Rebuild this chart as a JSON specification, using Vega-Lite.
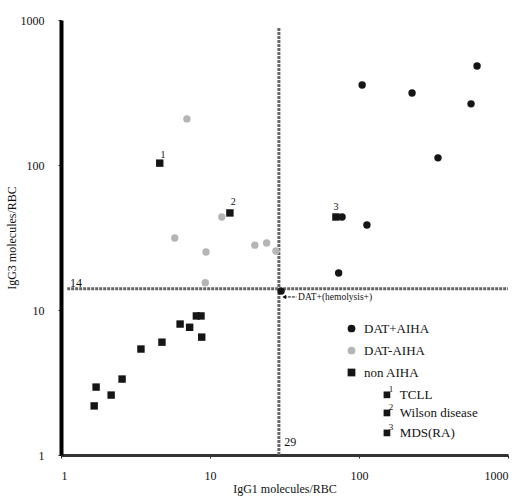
{
  "$schema": "https://vega.github.io/schema/vega-lite/v6.json",
  "width": 447,
  "height": 435,
  "autosize": "none",
  "padding": {"left": 61, "top": 20, "right": 21, "bottom": 41},
  "background": "white",
  "config": {
    "view": {"stroke": null},
    "font": "Liberation Serif",
    "axis": {"labelFont": "Liberation Serif", "titleFont": "Liberation Serif", "grid": false}
  },
  "datasets": {
    "pts": [
      {"igg1": 105, "igg3": 356, "group": "DAT+AIHA"},
      {"igg1": 227, "igg3": 314, "group": "DAT+AIHA"},
      {"igg1": 620, "igg3": 482, "group": "DAT+AIHA"},
      {"igg1": 565, "igg3": 264, "group": "DAT+AIHA"},
      {"igg1": 339, "igg3": 112, "group": "DAT+AIHA"},
      {"igg1": 77, "igg3": 43.8, "group": "DAT+AIHA"},
      {"igg1": 113, "igg3": 38.6, "group": "DAT+AIHA"},
      {"igg1": 73, "igg3": 18, "group": "DAT+AIHA"},
      {"igg1": 30, "igg3": 13.5, "group": "DAT+AIHA"},
      {"igg1": 7.0, "igg3": 208, "group": "DAT-AIHA"},
      {"igg1": 12.0, "igg3": 43.8, "group": "DAT-AIHA"},
      {"igg1": 5.8, "igg3": 31.4, "group": "DAT-AIHA"},
      {"igg1": 9.4, "igg3": 25.1, "group": "DAT-AIHA"},
      {"igg1": 20, "igg3": 28, "group": "DAT-AIHA"},
      {"igg1": 24, "igg3": 29, "group": "DAT-AIHA"},
      {"igg1": 27.7, "igg3": 25.5, "group": "DAT-AIHA"},
      {"igg1": 9.3, "igg3": 15.4, "group": "DAT-AIHA"},
      {"igg1": 4.6, "igg3": 103, "group": "non AIHA"},
      {"igg1": 13.6, "igg3": 46.7, "group": "non AIHA"},
      {"igg1": 70, "igg3": 43.8, "group": "non AIHA"},
      {"igg1": 1.72, "igg3": 2.94, "group": "non AIHA"},
      {"igg1": 1.67, "igg3": 2.18, "group": "non AIHA"},
      {"igg1": 2.17, "igg3": 2.59, "group": "non AIHA"},
      {"igg1": 2.57, "igg3": 3.34, "group": "non AIHA"},
      {"igg1": 3.44, "igg3": 5.38, "group": "non AIHA"},
      {"igg1": 4.76, "igg3": 6.0, "group": "non AIHA"},
      {"igg1": 6.3, "igg3": 8.0, "group": "non AIHA"},
      {"igg1": 7.3, "igg3": 7.6, "group": "non AIHA"},
      {"igg1": 8.1, "igg3": 9.1, "group": "non AIHA"},
      {"igg1": 8.7, "igg3": 9.1, "group": "non AIHA"},
      {"igg1": 8.8, "igg3": 6.5, "group": "non AIHA"}
    ]
  },
  "layer": [
    {
      "data": {"values": [{"y": 14, "x1": 1.1, "x2": 1000}]},
      "mark": {"type": "rule", "color": "#666", "strokeWidth": 3, "strokeDash": [3, 1]},
      "encoding": {
        "y": {"field": "y", "type": "quantitative", "scale": {"type": "log", "domain": [1, 1000], "nice": false}},
        "x": {"field": "x1", "type": "quantitative", "scale": {"type": "log", "domain": [1, 1000], "nice": false}},
        "x2": {"field": "x2"}
      }
    },
    {
      "data": {"values": [{"x": 29, "y1": 1, "y2": 880}]},
      "mark": {"type": "rule", "color": "#666", "strokeWidth": 3, "strokeDash": [3, 1]},
      "encoding": {
        "x": {"field": "x", "type": "quantitative"},
        "y": {"field": "y1", "type": "quantitative"},
        "y2": {"field": "y2"}
      }
    },
    {
      "data": {"name": "pts"},
      "mark": {"type": "point", "filled": true, "size": 55, "opacity": 1},
      "encoding": {
        "x": {"field": "igg1", "type": "quantitative", "title": "IgG1 molecules/RBC",
          "axis": {"values": [1, 10, 100, 1000], "format": "d", "domainColor": "#333", "domainWidth": 3, "tickSize": 3, "tickColor": "#222", "labelFontSize": 12, "labelPadding": 12, "titleFontSize": 12, "titleFontWeight": "normal", "titlePadding": 2, "labelColor": "#111", "titleColor": "#111"}},
        "y": {"field": "igg3", "type": "quantitative", "title": "IgG3 molecules/RBC",
          "axis": {"values": [1, 10, 100, 1000], "format": "d", "domainColor": "#000", "domainWidth": 4, "tickSize": 3, "tickColor": "#222", "labelFontSize": 12, "labelPadding": 14, "titleFontSize": 12, "titleFontWeight": "normal", "titlePadding": 2, "labelColor": "#111", "titleColor": "#111"}},
        "color": {"field": "group", "type": "nominal",
          "scale": {"domain": ["DAT+AIHA", "DAT-AIHA", "non AIHA"], "range": ["#151515", "#b5b5b5", "#151515"]},
          "legend": {"orient": "none", "legendX": 284, "legendY": 302, "title": null, "labelFont": "Liberation Serif", "labelFontSize": 13, "labelColor": "#111", "rowPadding": 8, "symbolSize": 60, "labelOffset": 6}},
        "shape": {"field": "group", "type": "nominal",
          "scale": {"domain": ["DAT+AIHA", "DAT-AIHA", "non AIHA"], "range": ["circle", "circle", "square"]}}
      }
    },
    {
      "data": {"values": [
        {"x": 4.84, "y": 117, "t": "1"},
        {"x": 14.3, "y": 55.5, "t": "2"},
        {"x": 70, "y": 51.5, "t": "3"}
      ]},
      "mark": {"type": "text", "fontSize": 10, "align": "center", "baseline": "middle", "color": "#111"},
      "encoding": {
        "x": {"field": "x", "type": "quantitative"},
        "y": {"field": "y", "type": "quantitative"},
        "text": {"field": "t"}
      }
    },
    {
      "data": {"values": [
        {"x": 154, "y": 2.6, "sx": 164, "sy": 2.85, "tx": 188, "sup": "1", "label": "TCLL"},
        {"x": 154, "y": 1.95, "sx": 164, "sy": 2.14, "tx": 188, "sup": "2", "label": "Wilson disease"},
        {"x": 154, "y": 1.42, "sx": 164, "sy": 1.56, "tx": 188, "sup": "3", "label": "MDS(RA)"}
      ]},
      "layer": [
        {
          "mark": {"type": "point", "shape": "square", "filled": true, "color": "#151515", "size": 45, "opacity": 1},
          "encoding": {
            "x": {"field": "x", "type": "quantitative"},
            "y": {"field": "y", "type": "quantitative"}
          }
        },
        {
          "mark": {"type": "text", "fontSize": 9, "align": "center", "baseline": "middle", "color": "#111"},
          "encoding": {
            "x": {"field": "sx", "type": "quantitative"},
            "y": {"field": "sy", "type": "quantitative"},
            "text": {"field": "sup"}
          }
        },
        {
          "mark": {"type": "text", "fontSize": 13, "align": "left", "baseline": "middle", "color": "#111"},
          "encoding": {
            "x": {"field": "tx", "type": "quantitative"},
            "y": {"field": "y", "type": "quantitative"},
            "text": {"field": "label"}
          }
        }
      ]
    },
    {
      "data": {"values": [
        {"x": 1.15, "y": 15.3, "t": "14", "size": 12},
        {"x": 31.5, "y": 1.22, "t": "29", "size": 12},
        {"x": 39, "y": 12.2, "t": "DAT+(hemolysis+)", "size": 9.5}
      ]},
      "mark": {"type": "text", "align": "left", "baseline": "middle", "color": "#111"},
      "encoding": {
        "x": {"field": "x", "type": "quantitative"},
        "y": {"field": "y", "type": "quantitative"},
        "text": {"field": "t"},
        "size": {"field": "size", "type": "quantitative", "scale": null, "legend": null}
      }
    },
    {
      "data": {"values": [{"x1": 31.3, "x2": 38, "y": 12.3}]},
      "mark": {"type": "rule", "color": "#111", "strokeWidth": 1, "strokeDash": [3, 1]},
      "encoding": {
        "x": {"field": "x1", "type": "quantitative"},
        "x2": {"field": "x2"},
        "y": {"field": "y", "type": "quantitative"}
      }
    },
    {
      "data": {"values": [{"x": 31.5, "y": 12.3}]},
      "mark": {"type": "point", "shape": "triangle-left", "filled": true, "color": "#111", "size": 20, "opacity": 1},
      "encoding": {
        "x": {"field": "x", "type": "quantitative"},
        "y": {"field": "y", "type": "quantitative"}
      }
    }
  ]
}
